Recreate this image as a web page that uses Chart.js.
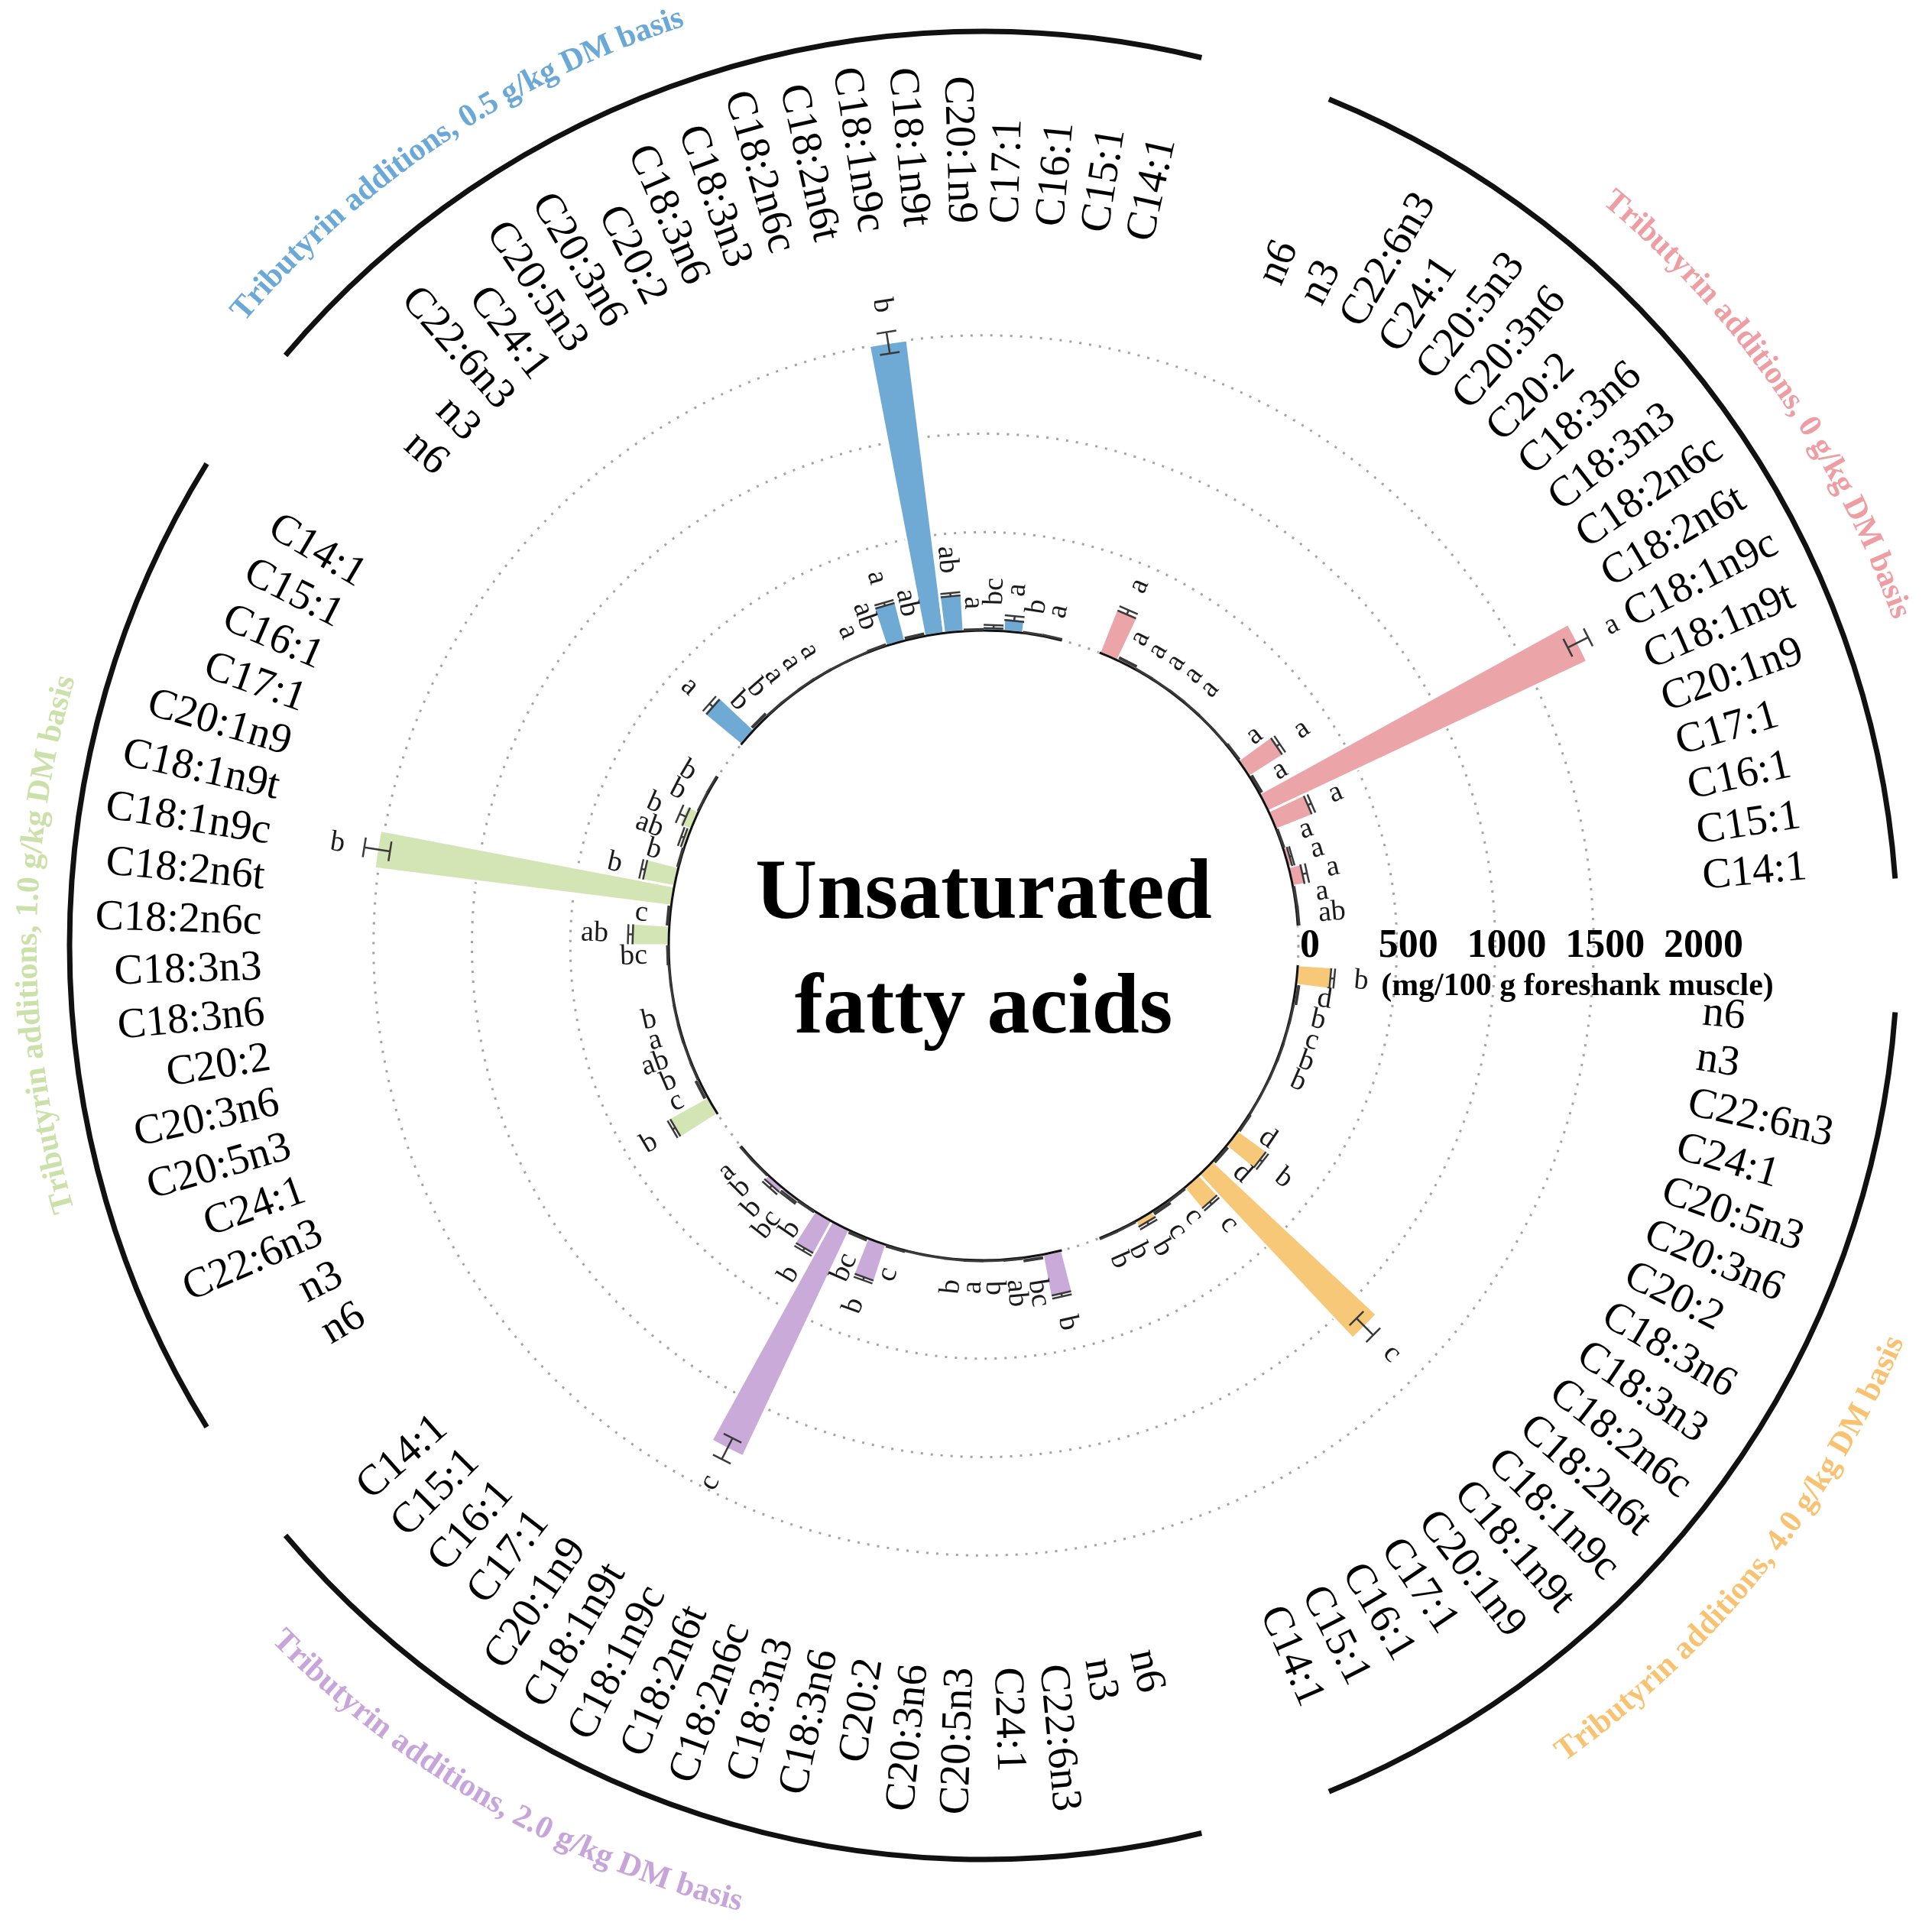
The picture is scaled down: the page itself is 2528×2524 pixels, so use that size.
<!DOCTYPE html>
<html>
<head>
<meta charset="utf-8">
<script src="https://cdn.jsdelivr.net/npm/chart.js"></script>
<style>
  html, body { margin: 0; padding: 0; background: #fff; overflow: hidden; }
  #wrap { width: 2528px; height: 2524px; position: relative; }
</style>
</head>
<body>
<div id="wrap"><canvas id="chart"></canvas></div>
<script>
// fatty acids, in clockwise order inside each treatment group
const acids = ['n6', 'n3', 'C22:6n3', 'C24:1', 'C20:5n3', 'C20:3n6', 'C20:2', 'C18:3n6', 'C18:3n3',
  'C18:2n6c', 'C18:2n6t', 'C18:1n9c', 'C18:1n9t', 'C20:1n9', 'C17:1', 'C16:1', 'C15:1', 'C14:1'];

// treatment groups, clockwise starting upper right
const groupTitles = ['Tributyrin additions, 0 g/kg DM basis', 'Tributyrin additions, 4.0 g/kg DM basis',
  'Tributyrin additions, 2.0 g/kg DM basis', 'Tributyrin additions, 1.0 g/kg DM basis',
  'Tributyrin additions, 0.5 g/kg DM basis'];
const barColors = ['#eba4a7', '#f7c878', '#c9aad8', '#d3e5b5', '#6eaad4'];
const titleColors = ['#ee9da2', '#f8c270', '#c7a4d9', '#cbe1a9', '#6aa8d7'];
// where each title sits (deg clockwise from 12 o'clock) and its radius in px
const titleAngles = [55, 129, 210, 270, 326];
const titleRadii = [1275, 1300, 1292, 1250, 1276];

// means (mg/100 g foreshank muscle)
const mean0 = [244, 15, 4, 3, 4, 3, 2, 2, 6, 210, 12, 1790, 205, 5, 25, 72, 5, 6];
const mean4 = [180, 14, 4, 3, 4, 3, 2, 2, 6, 185, 10, 1140, 145, 5, 15, 40, 4, 5];
const mean2 = [220, 15, 4, 3, 4, 3, 2, 2, 6, 200, 10, 1270, 195, 5, 20, 35, 4, 5];
const mean1 = [228, 15, 4, 3, 4, 3, 2, 2, 6, 195, 10, 1520, 172, 5, 25, 65, 4, 5];
const mean05 = [245, 15, 4, 3, 4, 3, 2, 2, 6, 205, 10, 1500, 190, 5, 20, 68, 4, 5];

// standard errors
const se0 = [12, 3, 1, 1, 1, 1, 1, 1, 2, 10, 3, 58, 10, 2, 6, 12, 2, 2];
const se4 = [10, 3, 1, 1, 1, 1, 1, 1, 2, 8, 3, 60, 8, 2, 4, 8, 1, 1];
const se2 = [8, 3, 1, 1, 1, 1, 1, 1, 2, 8, 3, 60, 8, 2, 5, 8, 1, 1];
const se1 = [8, 3, 1, 1, 1, 1, 1, 1, 2, 12, 3, 66, 10, 2, 8, 18, 1, 1];
const se05 = [12, 3, 1, 1, 1, 1, 1, 1, 2, 8, 3, 55, 8, 2, 8, 12, 1, 1];

// significance letters
const sig0 = ['a', 'a', 'a', 'a', 'a', 'a', '', '', 'a', 'a', 'a', 'a', 'a', 'a', 'a', 'a', 'a', 'ab'];
const sig4 = ['b', 'd', 'b', 'c', 'b', 'b', '', '', 'd', 'b', 'd', 'c', 'c', 'c', 'c', 'b', 'b', 'b'];
const sig2 = ['b', 'bc', 'ab', 'b', 'a', 'b', '', '', 'c', 'b', 'bc', 'c', 'b', 'b', 'bc', 'b', 'b', 'a'];
const sig1 = ['b', 'c', 'b', 'ab', 'a', 'b', '', '', 'bc', 'ab', 'c', 'b', 'b', 'b', 'ab', 'b', 'b', 'b'];
const sig05 = ['a', 'b', 'b', 'a', 'a', 'a', '', 'a', 'ab', 'a', 'ab', 'b', 'ab', 'a', 'bc', 'a', 'b', 'a'];

const gridTicks = [0, 500, 1000, 1500];
const axisTicks = [0, 500, 1000, 1500, 2000];

const GAP = 2;                 // empty slots after each group
const SLOTS = acids.length + GAP;
const serif = '"Liberation Serif", "Times New Roman", serif';

// flatten into one polar dataset, gaps get value 0 and no colour
const groupMeans = [mean0, mean4, mean2, mean1, mean05];
const groupSe = [se0, se4, se2, se1, se05];
const groupSig = [sig0, sig4, sig2, sig1, sig05];
const labels = [], values = [], errs = [], sigs = [], colors = [], borders = [];
groupTitles.forEach((t, k) => {
  acids.forEach((a, i) => {
    labels.push(a);
    values.push(groupMeans[k][i]);
    errs.push(groupSe[k][i]);
    sigs.push(groupSig[k][i]);
    colors.push(barColors[k]);
    borders.push(3);
  });
  for (let j = 0; j < GAP; j++) {
    labels.push('');
    values.push(0);
    errs.push(null);
    sigs.push('');
    colors.push('rgba(0,0,0,0)');
    borders.push(0);
  }
});

function normDeg(ang) {
  // canvas angle -> degrees clockwise from 12 o'clock
  return (((ang + Math.PI / 2) * 180 / Math.PI) % 360 + 360) % 360;
}

function radialText(ctx, text, cx, cy, ang, r) {
  ctx.save();
  ctx.translate(cx, cy);
  if (normDeg(ang) < 180) {
    ctx.rotate(ang);
    ctx.textAlign = 'left';
    ctx.fillText(text, r, 0);
  } else {
    ctx.rotate(ang + Math.PI);
    ctx.textAlign = 'right';
    ctx.fillText(text, -r, 0);
  }
  ctx.restore();
}

function curvedText(ctx, text, cx, cy, mid, R, color) {
  ctx.save();
  ctx.font = 'bold 42px ' + serif;
  ctx.fillStyle = color;
  ctx.textAlign = 'center';
  ctx.textBaseline = 'middle';
  const deg = normDeg(mid);
  const flip = deg > 90 && deg < 270;
  const total = ctx.measureText(text).width / R;
  let a = flip ? mid + total / 2 : mid - total / 2;
  for (const ch of text) {
    const w = ctx.measureText(ch).width / R;
    const ac = flip ? a - w / 2 : a + w / 2;
    ctx.save();
    ctx.translate(cx + R * Math.cos(ac), cy + R * Math.sin(ac));
    ctx.rotate(flip ? ac - Math.PI / 2 : ac + Math.PI / 2);
    ctx.fillText(ch, 0, 0);
    ctx.restore();
    a = flip ? a - w : a + w;
  }
  ctx.restore();
}

const ringDecor = {
  id: 'ringDecor',
  beforeDatasetsDraw(chart) {
    // bars start at the zero ring, not at the centre
    const r0 = chart.scales.r.getDistanceFromCenterForValue(0);
    chart.getDatasetMeta(0).data.forEach(el => { el.innerRadius = r0; });
  },
  afterDatasetsDraw(chart) {
    const ctx = chart.ctx;
    const sc = chart.scales.r;
    const cx = sc.xCenter, cy = sc.yCenter;
    const rv = v => sc.getDistanceFromCenterForValue(v);
    const r0 = rv(0);
    const arcs = chart.getDatasetMeta(0).data;
    const CAP = 13;
    const inset = 0.6 * Math.PI / 180;

    ctx.save();
    ctx.lineCap = 'butt';

    // baseline and outer bracket per group, plus curved title
    groupTitles.forEach((t, k) => {
      const a0 = arcs[k * SLOTS].startAngle;
      const a1 = arcs[k * SLOTS + acids.length - 1].endAngle;
      ctx.strokeStyle = '#111';
      ctx.lineWidth = 3;
      ctx.beginPath();
      ctx.arc(cx, cy, r0, a0, a1);
      ctx.stroke();
      ctx.lineWidth = 7;
      ctx.beginPath();
      ctx.arc(cx, cy, 1196, a0 + inset, a1 - inset);
      ctx.stroke();
      const mid = (titleAngles[k] - 90) * Math.PI / 180;
      curvedText(ctx, t, cx, cy, mid, titleRadii[k], titleColors[k]);
    });

    // error bars
    ctx.strokeStyle = '#3a3a3a';
    ctx.lineWidth = 2.5;
    arcs.forEach((el, i) => {
      if (errs[i] === null) return;
      const mid = (el.startAngle + el.endAngle) / 2;
      const c = Math.cos(mid), s = Math.sin(mid);
      const lo = rv(Math.max(0, values[i] - errs[i]));
      const hi = rv(values[i] + errs[i]);
      ctx.beginPath();
      ctx.moveTo(cx + lo * c, cy + lo * s);
      ctx.lineTo(cx + hi * c, cy + hi * s);
      [lo, hi].forEach(r => {
        ctx.moveTo(cx + r * c - CAP * s, cy + r * s + CAP * c);
        ctx.lineTo(cx + r * c + CAP * s, cy + r * s - CAP * c);
      });
      ctx.stroke();
    });

    // significance letters
    ctx.fillStyle = '#1a1a1a';
    ctx.font = '38px ' + serif;
    ctx.textBaseline = 'middle';
    arcs.forEach((el, i) => {
      if (!sigs[i]) return;
      const mid = (el.startAngle + el.endAngle) / 2;
      radialText(ctx, sigs[i], cx, cy, mid, rv(values[i] + errs[i]) + 26);
    });

    // fatty acid names
    ctx.fillStyle = '#000';
    ctx.font = '56px ' + serif;
    arcs.forEach((el, i) => {
      if (!labels[i]) return;
      const mid = (el.startAngle + el.endAngle) / 2;
      radialText(ctx, labels[i], cx, cy, mid, rv(2070));
    });

    // value axis along 3 o'clock
    ctx.font = 'bold 52px ' + serif;
    ctx.textAlign = 'center';
    axisTicks.forEach(v => {
      ctx.fillText(String(v), cx + rv(v) + 15, cy + 2);
    });
    ctx.font = 'bold 42px ' + serif;
    ctx.textAlign = 'left';
    ctx.fillText('(mg/100 g foreshank muscle)', cx + rv(420), cy + 54);

    // centre title
    ctx.font = 'bold 112px ' + serif;
    ctx.textAlign = 'center';
    ctx.textBaseline = 'alphabetic';
    ctx.fillText('Unsaturated', cx, cy - 36);
    ctx.fillText('fatty acids', cx, cy + 114);
    ctx.restore();
  }
};

new Chart(document.getElementById('chart'), {
  type: 'polarArea',
  data: {
    labels: labels,
    datasets: [{
      data: values,
      backgroundColor: colors,
      borderColor: '#ffffff',
      borderWidth: borders
    }]
  },
  options: {
    responsive: true,
    maintainAspectRatio: false,
    animation: false,
    events: [],
    layout: { padding: { left: 360, right: 314, top: 310, bottom: 360 } },
    plugins: { legend: { display: false }, tooltip: { enabled: false } },
    scales: {
      r: {
        min: -1600,
        max: 2000,
        startAngle: 21.6,
        ticks: { display: false },
        angleLines: { display: false },
        pointLabels: { display: false },
        grid: { circular: true, color: '#a3a3a3', lineWidth: 3 },
        border: { dash: [3, 10] },
        afterBuildTicks: s => { s.ticks = [-1600].concat(gridTicks).map(v => ({ value: v })); }
      }
    }
  },
  plugins: [ringDecor]
});
</script>
</body>
</html>
